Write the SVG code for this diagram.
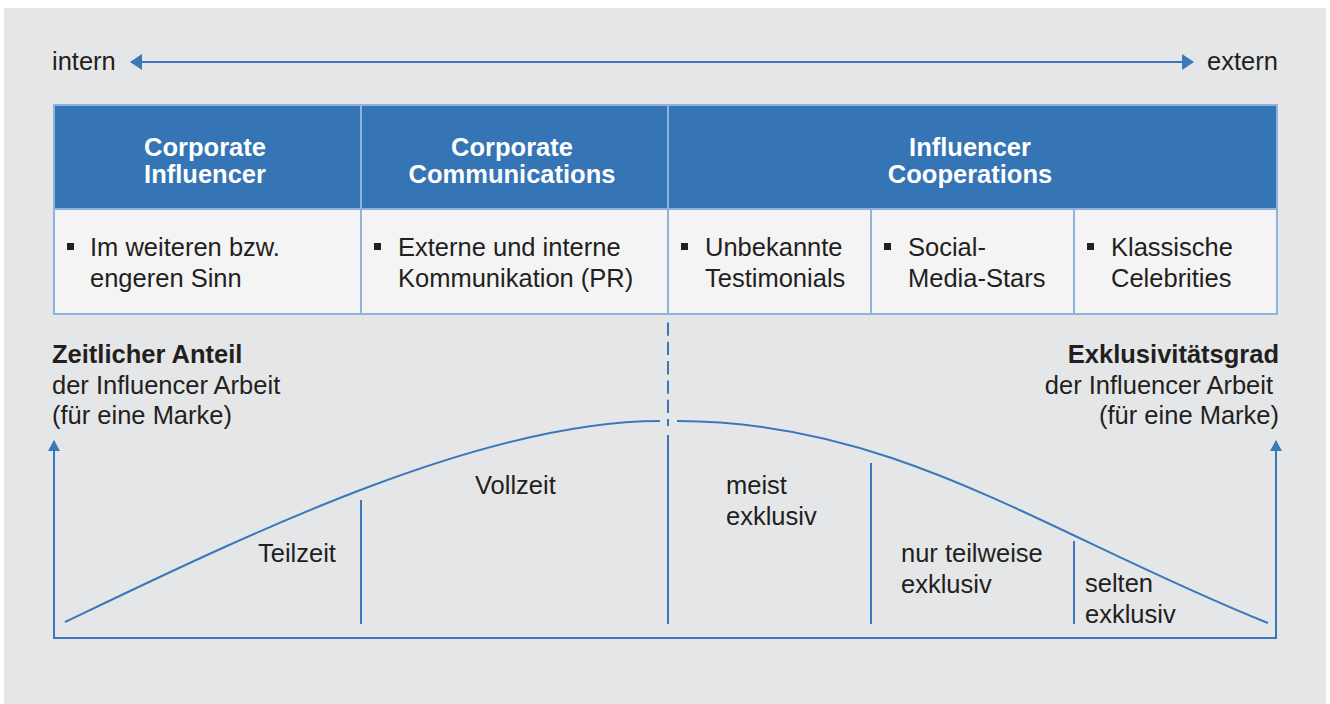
<svg xmlns="http://www.w3.org/2000/svg" width="1330" height="704" viewBox="0 0 1330 704">
  <defs>
    <style>
      .txt { font-family: "Liberation Sans", Arial, sans-serif; font-size: 25.5px; fill: #231f20; }
      .bold { font-weight: bold; }
      .head { font-family: "Liberation Sans", Arial, sans-serif; font-size: 25.5px; font-weight: bold; fill: #ffffff; text-anchor: middle; }
      .hfill { fill: #3574b5; }
      .bfill { fill: #f4f4f5; }
      .grid { stroke: #8db4dd; stroke-width: 2; fill: none; }
      .blue { stroke: #3a78bb; stroke-width: 2; fill: none; }
      .bullet { fill: #231f20; }
    </style>
    <marker id="tri" viewBox="0 0 12 16" refX="11" refY="8" markerWidth="12" markerHeight="16" markerUnits="userSpaceOnUse" orient="auto-start-reverse">
      <path d="M0,0 L12,8 L0,16 Z" fill="#3a78bb"/>
    </marker>
    <marker id="tri-s" viewBox="0 0 11 12" refX="10" refY="6" markerWidth="11" markerHeight="12" markerUnits="userSpaceOnUse" orient="auto">
      <path d="M0,0 L11,6 L0,12 Z" fill="#3a78bb"/>
    </marker>
  </defs>

  <!-- page and panel -->
  <rect x="0" y="0" width="1330" height="704" fill="#ffffff"/>
  <rect x="4" y="8" width="1322" height="696" fill="#e5e6e8"/>

  <!-- intern / extern scale -->
  <g id="scale">
    <text class="txt" x="52" y="70">intern</text>
    <text class="txt" x="1207" y="70">extern</text>
  </g>

  <!-- category table -->
  <g id="col-corporate-influencer">
    <rect class="hfill" x="54" y="105" width="307" height="104"/>
    <rect class="bfill" x="54" y="209" width="307" height="105"/>
    <text class="head" x="205" y="156">Corporate</text>
    <text class="head" x="205" y="183">Influencer</text>
    <rect class="bullet" x="67" y="243" width="7" height="7"/>
    <text class="txt" x="90" y="256">Im weiteren bzw.</text>
    <text class="txt" x="90" y="287">engeren Sinn</text>
  </g>

  <g id="col-corporate-communications">
    <rect class="hfill" x="361" y="105" width="307" height="104"/>
    <rect class="bfill" x="361" y="209" width="307" height="105"/>
    <text class="head" x="512" y="156">Corporate</text>
    <text class="head" x="512" y="183">Communications</text>
    <rect class="bullet" x="374" y="243" width="7" height="7"/>
    <text class="txt" x="398" y="256">Externe und interne</text>
    <text class="txt" x="398" y="287">Kommunikation (PR)</text>
  </g>

  <g id="col-influencer-cooperations">
    <rect class="hfill" x="668" y="105" width="609" height="104"/>
    <rect class="bfill" x="668" y="209" width="609" height="105"/>
    <text class="head" x="970" y="156">Influencer</text>
    <text class="head" x="970" y="183">Cooperations</text>
  </g>

  <g id="sub-testimonials">
    <rect class="bullet" x="681" y="243" width="7" height="7"/>
    <text class="txt" x="705" y="256">Unbekannte</text>
    <text class="txt" x="705" y="287">Testimonials</text>
  </g>

  <g id="sub-social-media">
    <rect class="bullet" x="884" y="243" width="7" height="7"/>
    <text class="txt" x="908" y="256">Social-</text>
    <text class="txt" x="908" y="287">Media-Stars</text>
  </g>

  <g id="sub-celebrities">
    <rect class="bullet" x="1087" y="243" width="7" height="7"/>
    <text class="txt" x="1111" y="256">Klassische</text>
    <text class="txt" x="1111" y="287">Celebrities</text>
  </g>

  <g id="table-grid">
    <rect class="grid" x="54" y="105" width="1223" height="209"/>
    <line class="grid" x1="54" y1="209" x2="1277" y2="209"/>
    <line class="grid" x1="361" y1="105" x2="361" y2="314"/>
    <line class="grid" x1="668" y1="105" x2="668" y2="314"/>
    <line class="grid" x1="871" y1="209" x2="871" y2="314"/>
    <line class="grid" x1="1074" y1="209" x2="1074" y2="314"/>
  </g>

  <!-- axis titles -->
  <g id="axis-left-title">
    <text class="txt bold" x="52" y="363">Zeitlicher Anteil</text>
    <text class="txt" x="52" y="394">der Influencer Arbeit</text>
    <text class="txt" x="52" y="424">(für eine Marke)</text>
  </g>
  <g id="axis-right-title" text-anchor="end">
    <text class="txt bold" x="1279" y="363">Exklusivitätsgrad</text>
    <text class="txt" x="1273" y="394">der Influencer Arbeit</text>
    <text class="txt" x="1279" y="424">(für eine Marke)</text>
  </g>

  <!-- curve region labels -->
  <g id="labels">
    <text class="txt" x="258" y="562">Teilzeit</text>
    <text class="txt" x="475" y="494">Vollzeit</text>
    <text class="txt" x="726" y="494">meist</text>
    <text class="txt" x="726" y="525">exklusiv</text>
    <text class="txt" x="901" y="562">nur teilweise</text>
    <text class="txt" x="901" y="593">exklusiv</text>
    <text class="txt" x="1085" y="592">selten</text>
    <text class="txt" x="1085" y="623">exklusiv</text>
  </g>

  <!-- connectors: arrows, axes, curves and dividers -->
  <g id="connectors">
    <line class="blue" x1="131" y1="62" x2="1193" y2="62" marker-start="url(#tri)" marker-end="url(#tri)"/>
    <path class="blue" d="M54,442 V638 H1276 V442" />
    <line class="blue" x1="54" y1="460" x2="54" y2="441" marker-end="url(#tri-s)"/>
    <line class="blue" x1="1276" y1="460" x2="1276" y2="441" marker-end="url(#tri-s)"/>
    <path class="blue" d="M65,622 C245,536 480,421 660,421"/>
    <path class="blue" d="M677,421 C897,421 1048,535 1268,623"/>
    <line class="blue" x1="668" y1="322.5" x2="668" y2="426" stroke-dasharray="13.3 6"/>
    <line class="blue" x1="668" y1="435" x2="668" y2="624"/>
    <line class="blue" x1="361" y1="500" x2="361" y2="624"/>
    <line class="blue" x1="871" y1="463" x2="871" y2="624"/>
    <line class="blue" x1="1074" y1="541" x2="1074" y2="624"/>
  </g>
</svg>
